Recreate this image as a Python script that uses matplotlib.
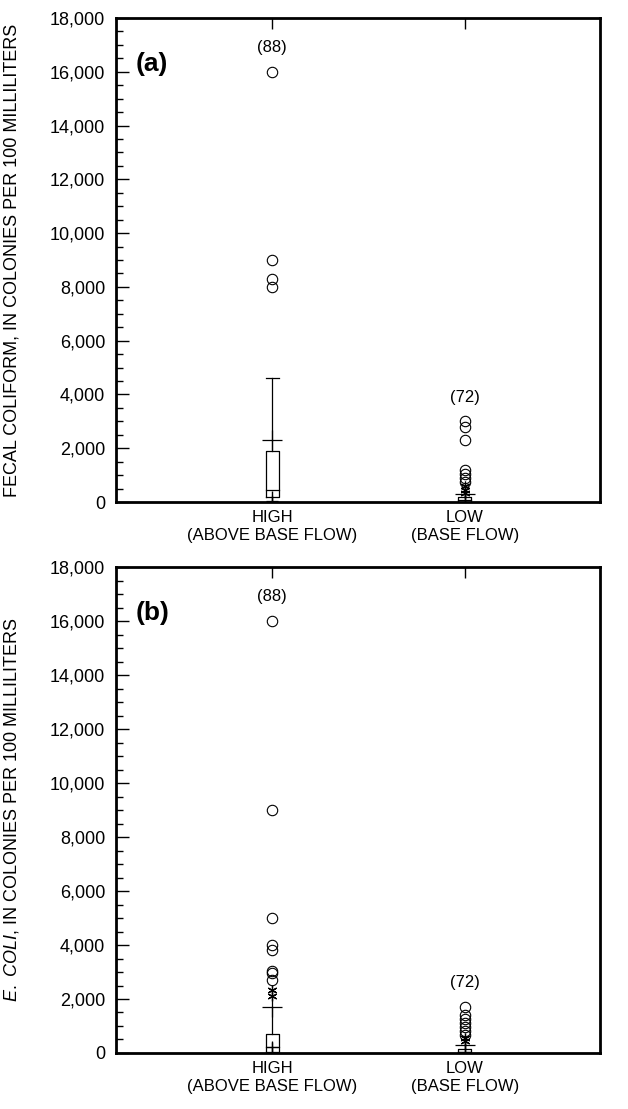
import numpy as np
import matplotlib
matplotlib.use("Agg")
import matplotlib.pyplot as plt
from matplotlib.ticker import MultipleLocator, FuncFormatter

plt.rcParams['font.family'] = ['Liberation Sans', 'DejaVu Sans']
plt.rcParams['mathtext.fontset'] = 'custom'
plt.rcParams['mathtext.rm'] = 'Liberation Sans'
plt.rcParams['mathtext.it'] = 'Liberation Sans:italic'

categories = ["HIGH\n(ABOVE BASE FLOW)", "LOW\n(BASE FLOW)"]
counts = ["(88)", "(72)"]

# (a) fecal coliform
fc_box = [  # q1, median, q3
    [200, 450, 1900],
    [20, 60, 200],
]
fc_low_cross = [40, 10]
fc_upper_cross = [2300, 300]
fc_whisker_top = [4600, None]
fc_stars = [[], [600, 450, 350]]
fc_circles = [[8000, 8300, 9000, 16000],
              [3000, 2800, 2300, 1200, 1050, 900, 750]]

# (b) E. coli
ec_box = [
    [50, 235, 700],
    [20, 50, 150],
]
ec_low_cross = [235, 10]
ec_upper_cross = [1700, 300]
ec_whisker_top = [None, None]
ec_stars = [[2350, 2100], [550, 450]]
ec_circles = [[16000, 9000, 5000, 4000, 3800, 3050, 2950, 2700],
              [1700, 1400, 1250, 1100, 950, 800, 650]]

fig = plt.figure(figsize=(6.28, 11.09), dpi=100)
ax1 = fig.add_axes([0.185, 0.5473, 0.77, 0.4365])
ax2 = fig.add_axes([0.185, 0.0505, 0.77, 0.4382])

def draw(ax, box, lowc, upc, wtop, stars, circles, letter, ylabel):
    hw = 0.034
    for i in range(2):
        x = i + 1
        q1, med, q3 = box[i]
        ax.plot([x - hw, x + hw, x + hw, x - hw, x - hw], [q1, q1, q3, q3, q1],
                color='k', lw=0.9)
        ax.plot([x - hw, x + hw], [med, med], color='k', lw=0.9)
        top = wtop[i] if wtop[i] is not None else upc[i]
        ax.plot([x, x], [q3, top], color='k', lw=0.9)
        ax.plot([x, x], [lowc[i], q1], color='k', lw=0.9)
        if wtop[i] is not None:
            ax.plot([x - hw, x + hw], [top, top], color='k', lw=0.9)
        ax.plot([x], [upc[i]], marker='+', ms=14, mew=0.9, color='k')
        ax.plot([x], [lowc[i]], marker='+', ms=8, mew=0.9, color='k')
        if stars[i]:
            ax.plot([x] * len(stars[i]), stars[i], ls='none', marker=(6, 2, 0),
                    ms=7, mew=0.9, color='k')
        ax.plot([x] * len(circles[i]), circles[i], ls='none', marker='o',
                ms=7.5, mfc='none', mec='k', mew=0.8)
        ax.annotate(counts[i], (x, max(circles[i])), xytext=(0, 12),
                    textcoords='offset points', ha='center', va='bottom',
                    fontsize=12)
    ax.set_xlim(0.19, 2.70)
    ax.set_ylim(0, 18000)
    ax.set_xticks([1, 2])
    ax.set_xticklabels(categories, fontsize=12, linespacing=1.25)
    ax.yaxis.set_major_locator(MultipleLocator(2000))
    ax.yaxis.set_minor_locator(MultipleLocator(500))
    ax.yaxis.set_major_formatter(FuncFormatter(lambda v, p: f"{int(v):,}"))
    ax.tick_params(axis='y', which='major', direction='in', length=9, width=1,
                   labelsize=13, pad=8)
    ax.tick_params(axis='y', which='minor', direction='in', length=5, width=1)
    ax.tick_params(axis='x', direction='in', length=8, width=1, top=True,
                   pad=6)
    for s in ax.spines.values():
        s.set_linewidth(2)
    ax.text(0.04, 0.905, letter, transform=ax.transAxes, fontsize=19,
            fontweight='bold', va='center')
    ax.set_ylabel(ylabel, fontsize=13, labelpad=21)

draw(ax1, fc_box, fc_low_cross, fc_upper_cross, fc_whisker_top, fc_stars,
     fc_circles, "(a)", "FECAL COLIFORM, IN COLONIES PER 100 MILLILITERS")
draw(ax2, ec_box, ec_low_cross, ec_upper_cross, ec_whisker_top, ec_stars,
     ec_circles, "(b)", r"$\it{E.\ COLI}$, IN COLONIES PER 100 MILLILITERS")

fig.savefig("out.png", dpi=100)
